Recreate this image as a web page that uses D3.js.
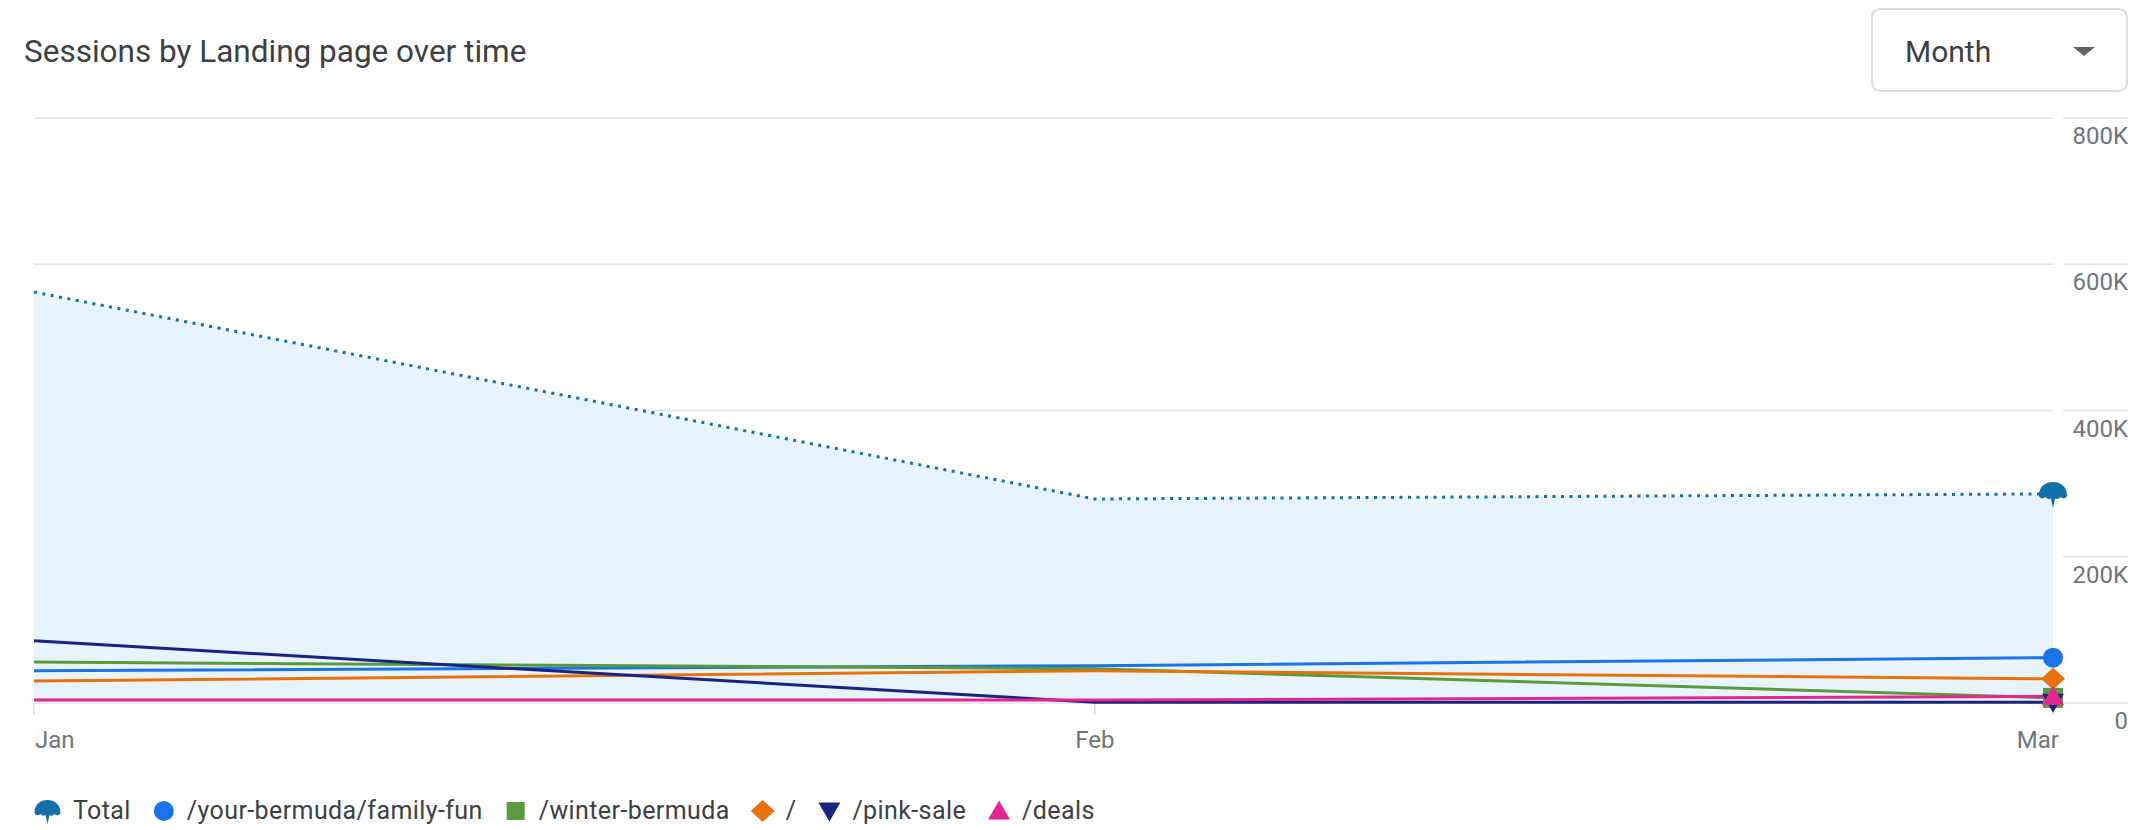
<!DOCTYPE html>
<html>
<head>
<meta charset="utf-8">
<script src="https://cdn.jsdelivr.net/npm/d3@7"></script>
<style>
  html, body { margin: 0; padding: 0; background: #fff; }
  svg { display: block; font-family: Roboto, "Noto Sans", sans-serif; }
</style>
</head>
<body>
<svg id="chart"></svg>
<script>
const WIDTH = 2131;
const HEIGHT = 830;

// data
const months = ["Jan", "Feb", "Mar"];
const monthDates = [new Date(2023, 0, 1), new Date(2023, 1, 1), new Date(2023, 2, 1)];
const yTicks = [0, 200000, 400000, 600000, 800000];
const yTickLabels = ["0", "200K", "400K", "600K", "800K"];

const totalValues = [562000, 279000, 286000];
const familyFun = [44000, 51000, 62000];
const winterBermuda = [56000, 47000, 7000];
const rootPage = [30000, 44000, 33000];
const pinkSale = [85000, 1000, 1000];
const deals = [4000, 4000, 9000];

const seriesNames = ["/your-bermuda/family-fun", "/winter-bermuda", "/", "/pink-sale", "/deals"];
const seriesColors = ["#1a73e8", "#5a9a3a", "#e8710a", "#1a237e", "#e52592"];
const seriesShapes = ["circle", "square", "diamond", "triDown", "triUp"];
const seriesValues = [familyFun, winterBermuda, rootPage, pinkSale, deals];

const TOTAL_COLOR = "#1170aa";

const svg = d3.select("#chart")
              .attr("width", WIDTH)
              .attr("height", HEIGHT);

const x = d3.scaleTime()
            .domain([monthDates[0], monthDates[2]])
            .range([34, 2053]);

const y = d3.scaleLinear()
            .domain([0, 800000])
            .range([703, 118]);

// marker shapes, drawn around 0,0
const shapePath = (shape, s) => {
  if (shape === "square") return `M${-s},${-s}H${s}V${s}H${-s}Z`;
  if (shape === "diamond") return `M0,${-s * 1.1}L${s * 1.2},0L0,${s * 1.1}L${-s * 1.2},0Z`;
  if (shape === "triUp") return `M0,${-s * 1.05}L${s * 1.1},${s * 0.85}L${-s * 1.1},${s * 0.85}Z`;
  if (shape === "triDown") return `M0,${s * 1.05}L${s * 1.1},${-s * 0.85}L${-s * 1.1},${-s * 0.85}Z`;
  return null;
};

const TOTAL_ICON = "M-13,2 C-13,-7 -7,-11 0,-11 C7,-11 13,-7 13,2 Q11,6 7,3 Q4.5,6 2,4 L0,13 L-2,4 Q-4.5,6 -7,3 Q-11,6 -13,2 Z";

const drawMarker = (g, shape, color, cx, cy, s) => {
  if (shape === "circle") {
    g.append("circle").attr("cx", cx).attr("cy", cy).attr("r", s).attr("fill", color);
  } else if (shape === "total") {
    g.append("path")
     .attr("transform", `translate(${cx},${cy}) scale(${s / 12})`)
     .attr("d", TOTAL_ICON)
     .attr("fill", color);
  } else {
    g.append("path")
     .attr("transform", `translate(${cx},${cy})`)
     .attr("d", shapePath(shape, s))
     .attr("fill", color);
  }
};

// title and dropdown
svg.append("text")
   .attr("x", 24)
   .attr("y", 62)
   .attr("font-size", 31.5)
   .attr("fill", "#3c4043")
   .text("Sessions by Landing page over time");

svg.append("rect")
   .attr("x", 1872)
   .attr("y", 9)
   .attr("width", 255)
   .attr("height", 82)
   .attr("rx", 8)
   .attr("fill", "#fff")
   .attr("stroke", "#dadce0")
   .attr("stroke-width", 2);

svg.append("text")
   .attr("x", 1905)
   .attr("y", 62)
   .attr("font-size", 30)
   .attr("fill", "#3c4043")
   .text("Month");

svg.append("path")
   .attr("d", "M2073,47L2095,47L2084,56Z")
   .attr("fill", "#5f6368");

// grid
const grid = svg.append("g");
yTicks.forEach((t, i) => {
  grid.append("line")
      .attr("x1", x.range()[0]).attr("x2", x.range()[1])
      .attr("y1", y(t)).attr("y2", y(t))
      .attr("stroke", "#e3e3e3").attr("stroke-width", 1.5);
  grid.append("line")
      .attr("x1", 2063).attr("x2", 2128)
      .attr("y1", y(t)).attr("y2", y(t))
      .attr("stroke", "#e3e3e3").attr("stroke-width", 1.5);
  grid.append("text")
      .attr("x", 2128)
      .attr("y", y(t) + 26)
      .attr("text-anchor", "end")
      .attr("font-size", 24)
      .attr("fill", "#70757a")
      .text(yTickLabels[i]);
});

// x ticks and labels
monthDates.forEach((d, i) => {
  grid.append("line")
      .attr("x1", x(d)).attr("x2", x(d))
      .attr("y1", y(0)).attr("y2", y(0) + 12)
      .attr("stroke", "#dadce0").attr("stroke-width", 1.5);
  grid.append("text")
      .attr("x", i === 0 ? x(d) + 1 : (i === 2 ? x(d) + 6 : x(d)))
      .attr("y", 748)
      .attr("text-anchor", i === 0 ? "start" : (i === 2 ? "end" : "middle"))
      .attr("font-size", 24)
      .attr("fill", "#70757a")
      .text(months[i]);
});

// total area + dotted line
const area = d3.area()
               .x((d, i) => x(monthDates[i]))
               .y0(y(0))
               .y1(d => y(d));

svg.append("path")
   .datum(totalValues)
   .attr("d", area)
   .attr("fill", "#e8f4fd");

const line = d3.line()
               .x((d, i) => x(monthDates[i]))
               .y(d => y(d));

svg.append("path")
   .datum(totalValues)
   .attr("d", line)
   .attr("fill", "none")
   .attr("stroke", TOTAL_COLOR)
   .attr("stroke-width", 3)
   .attr("stroke-dasharray", "3 5.5");

// series lines
const lines = svg.append("g");
seriesValues.forEach((vals, i) => {
  lines.append("path")
       .datum(vals)
       .attr("d", line)
       .attr("fill", "none")
       .attr("stroke", seriesColors[i])
       .attr("stroke-width", 3);
});

// end markers
const markers = svg.append("g");
drawMarker(markers, "total", TOTAL_COLOR, x(monthDates[2]), y(totalValues[2]), 13);
seriesValues.forEach((vals, i) => {
  drawMarker(markers, seriesShapes[i], seriesColors[i], x(monthDates[2]), y(vals[2]), 10);
});

// legend
const legend = svg.append("g");
const legendItems = [{ name: "Total", color: TOTAL_COLOR, shape: "total", w: 27 }]
  .concat(seriesNames.map((n, i) => ({ name: n, color: seriesColors[i], shape: seriesShapes[i], w: 22 })));

let lx = 34;
const LEGEND_Y = 811;
legendItems.forEach(item => {
  let size = item.shape === "square" ? 9 : (item.shape === "total" ? 12 : 10);
  drawMarker(legend, item.shape, item.color, lx + item.w / 2, LEGEND_Y, size);
  let label = legend.append("text")
                    .attr("x", lx + item.w + 12)
                    .attr("y", LEGEND_Y + 8)
                    .attr("font-size", 25)
                    .attr("letter-spacing", 0.4)
                    .attr("fill", "#3c4043")
                    .text(item.name);
  lx = lx + item.w + 12 + label.node().getComputedTextLength() + 22;
});
</script>
</body>
</html>
